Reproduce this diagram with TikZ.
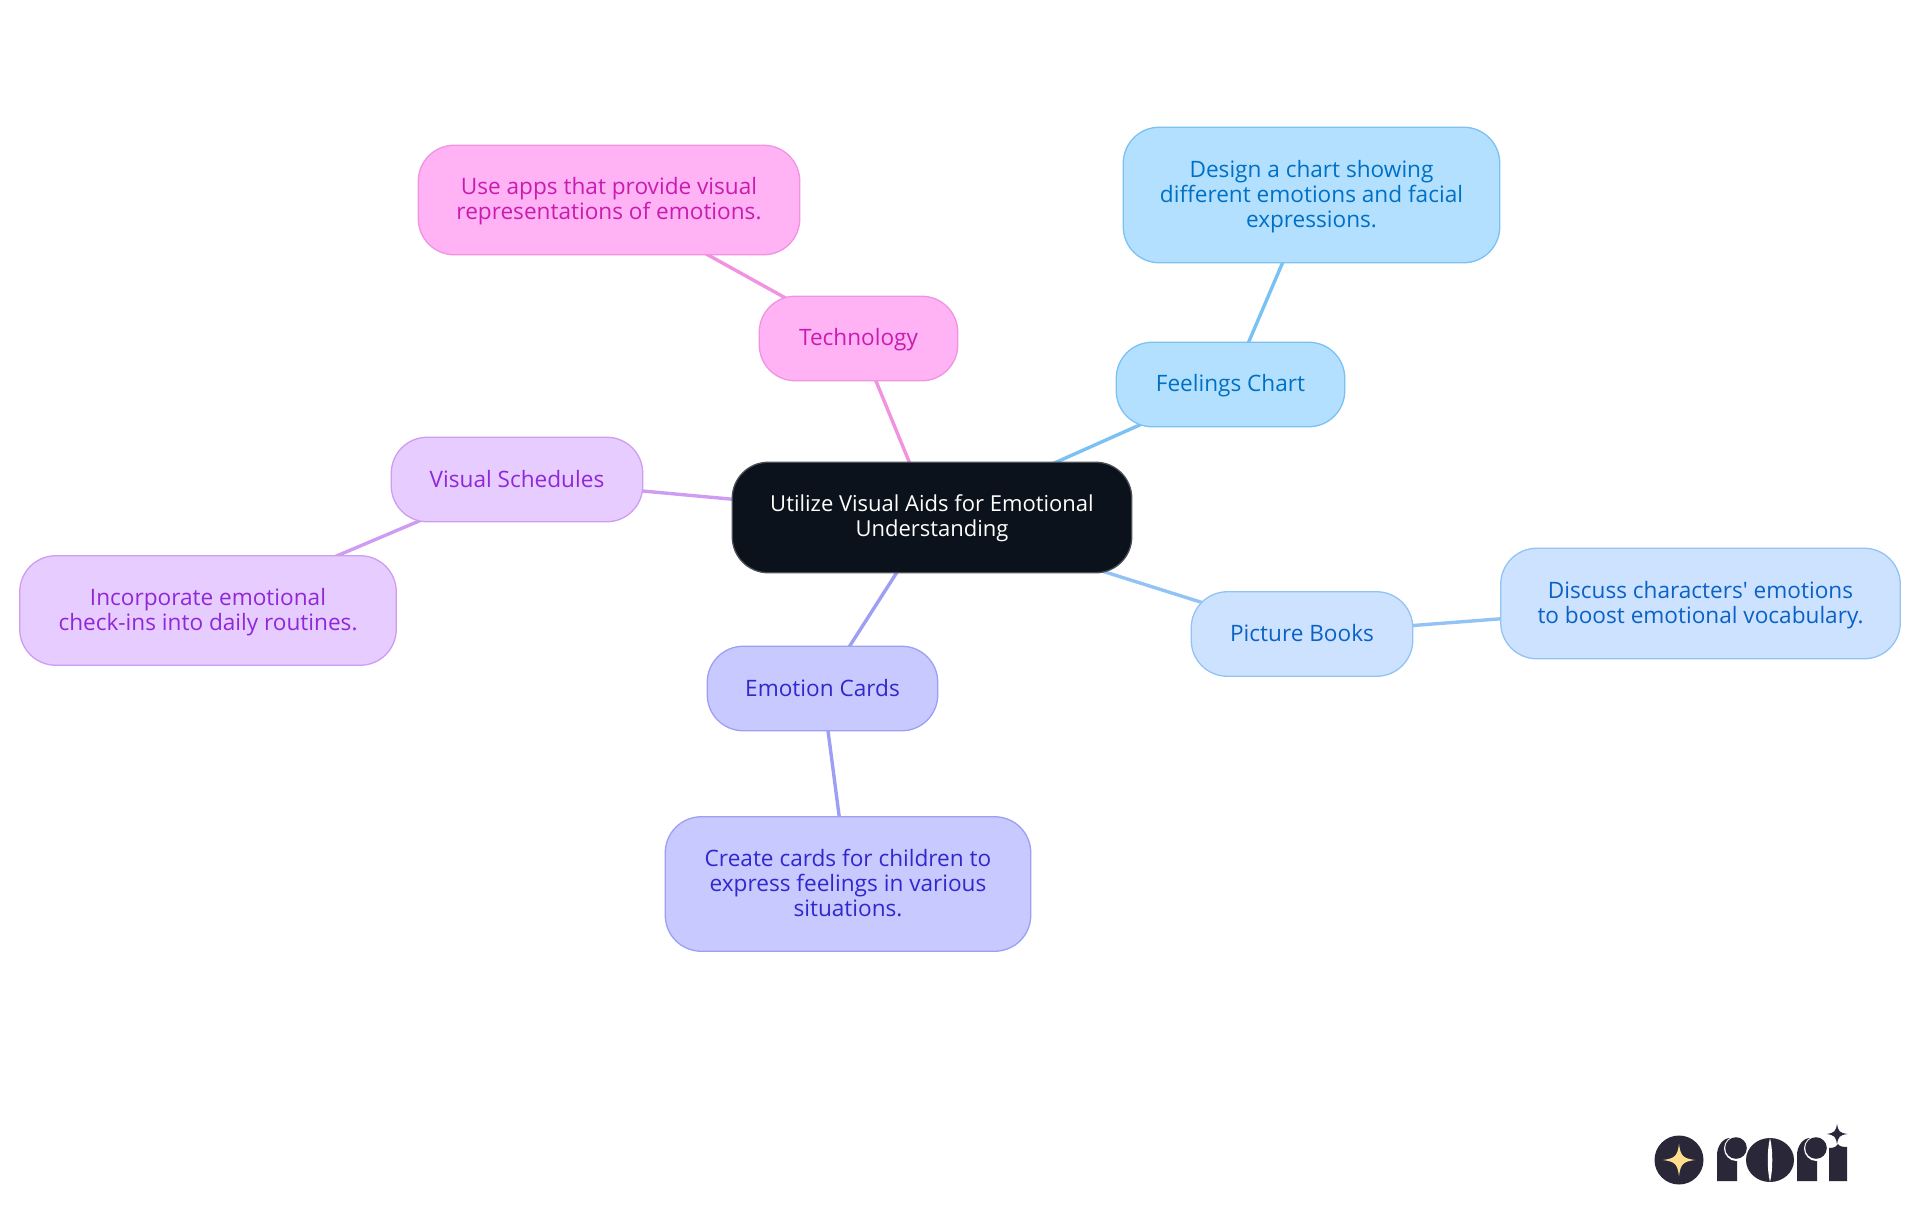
\documentclass[tikz,border=0pt]{standalone}
\usepackage{fontspec}
\newfontfamily\mapfont{Open Sans}
\usetikzlibrary{backgrounds}
\definecolor{cRootF}{HTML}{0B121B}\definecolor{cRootD}{HTML}{4A4F56}
\definecolor{cSkyF}{HTML}{B3E0FF}\definecolor{cSkyD}{HTML}{7BC1F2}\definecolor{cSkyT}{HTML}{0070C4}
\definecolor{cBlueF}{HTML}{CCE2FF}\definecolor{cBlueD}{HTML}{93C3F5}\definecolor{cBlueT}{HTML}{0B62C4}
\definecolor{cIndF}{HTML}{C8C9FF}\definecolor{cIndD}{HTML}{9D9FF5}\definecolor{cIndT}{HTML}{3028CC}
\definecolor{cPurF}{HTML}{E6CCFF}\definecolor{cPurD}{HTML}{CE9DF2}\definecolor{cPurT}{HTML}{9028D8}
\definecolor{cPinkF}{HTML}{FFB3F5}\definecolor{cPinkD}{HTML}{F093E0}\definecolor{cPinkT}{HTML}{C81CB0}
\definecolor{cLogo}{HTML}{2A2838}\definecolor{cStar}{HTML}{FFDE8F}
\tikzset{
  box/.style={rectangle,rounded corners=36pt,draw,line width=1.3pt,inner sep=0pt,align=center,
    font=\mapfont\fontsize{22.6}{25}\selectfont,
    execute at begin node={\rule{0pt}{20pt}},execute at end node={\rule[-5pt]{0pt}{5pt}}},
  rootbox/.style={box,fill=cRootF,draw=cRootD,text=white,font=\mapfont\fontsize{22}{25}\selectfont},
  sky/.style={box,fill=cSkyF,draw=cSkyD,text=cSkyT},
  bluebox/.style={box,fill=cBlueF,draw=cBlueD,text=cBlueT},
  ind/.style={box,fill=cIndF,draw=cIndD,text=cIndT},
  pur/.style={box,fill=cPurF,draw=cPurD,text=cPurT},
  pink/.style={box,fill=cPinkF,draw=cPinkD,text=cPinkT},
  edge/.style={line width=3.4pt},
  sz/.style 2 args={minimum width=#1pt-0.5pt,minimum height=#2pt-0.5pt},
}
\newcommand{\firstline}{\rule{0pt}{19.5pt}}
\newcommand{\fourstar}[4]{% x y r colour
  \fill[#4] (#1,#2-#3) .. controls (#1+0.1*#3,#2-0.25*#3) and (#1+0.25*#3,#2-0.1*#3) .. (#1+#3,#2)
    .. controls (#1+0.25*#3,#2+0.1*#3) and (#1+0.1*#3,#2+0.25*#3) .. (#1,#2+#3)
    .. controls (#1-0.1*#3,#2+0.25*#3) and (#1-0.25*#3,#2+0.1*#3) .. (#1-#3,#2)
    .. controls (#1-0.25*#3,#2-0.1*#3) and (#1-0.1*#3,#2-0.25*#3) .. (#1,#2-#3) -- cycle;}
\newcommand{\logor}[1]{%
  \fill[cLogo] (#1,1181) -- (#1,1155) .. controls (#1,1146) and (#1+6,1138) .. (#1+13,1138) -- (#1+20,1138) -- (#1+20,1181) -- cycle;
  \fill[white] (#1+19.5,1148.5) circle (12.5);
  \fill[cLogo] (#1+19,1148) circle (10.8);}
\begin{document}
\begin{tikzpicture}[x=1pt,y=-1pt]
\useasboundingbox (0,0) rectangle (1920,1215);
\node[rootbox,sz={400}{111}] (root) at (932,517.5) {\rule{0pt}{18pt}Utilize Visual Aids for Emotional\\Understanding};
\node[sky,sz={229}{85}] (feel) at (1230.5,384.5) {Feelings Chart};
\node[sky,sz={377}{136}] (feelD) at (1311.5,195) {\firstline Design a chart showing\\different emotions and facial\\expressions.};
\node[bluebox,sz={222}{85}] (pic) at (1302,634) {Picture Books};
\node[bluebox,sz={400}{111}] (picD) at (1700.5,603.5) {\firstline Discuss characters' emotions\\to boost emotional vocabulary.};
\node[ind,sz={231}{85}] (card) at (822.5,688.5) {Emotion Cards};
\node[ind,sz={366}{135}] (cardD) at (848,884) {\firstline Create cards for children to\\express feelings in various\\situations.};
\node[pur,sz={252}{85}] (sched) at (517,479.5) {Visual Schedules};
\node[pur,sz={377}{110}] (schedD) at (208,610.5) {\firstline Incorporate emotional\\check-ins into daily routines.};
\node[pink,sz={199}{85}] (tech) at (858.5,338.5) {Technology};
\node[pink,sz={382}{110}] (techD) at (609,200) {\firstline Use apps that provide visual\\representations of emotions.};
\begin{pgfonlayer}{background}
\draw[edge,cSkyD] (root.center)--(feel.center);
\draw[edge,cSkyD] (feel.center)--(feelD.center);
\draw[edge,cBlueD] (root.center)--(pic.center);
\draw[edge,cBlueD] (pic.center)--(picD.center);
\draw[edge,cIndD] (root.center)--(card.center);
\draw[edge,cIndD] (card.center)--(cardD.center);
\draw[edge,cPurD] (root.center)--(sched.center);
\draw[edge,cPurD] (sched.center)--(schedD.center);
\draw[edge,cPinkD] (root.center)--(tech.center);
\draw[edge,cPinkD] (tech.center)--(techD.center);
\end{pgfonlayer}
% logo
\fill[cLogo] (1679,1160) circle (24.5);
\fourstar{1679}{1160}{16}{cStar}
\logor{1717}
\fill[cLogo] (1770,1160) ellipse (24 and 22);
\fill[white] (1770,1138) .. controls (1767,1150) and (1767,1170) .. (1770,1182) .. controls (1773,1170) and (1773,1150) .. (1770,1138) -- cycle;
\logor{1797}
\fill[cLogo] (1829,1181) -- (1829,1148) .. controls (1835,1148) and (1837,1146) .. (1838,1144) .. controls (1839,1146) and (1842,1147) .. (1847,1147) -- (1847,1181) -- cycle;
\fourstar{1837}{1134}{10.5}{cLogo}
\end{tikzpicture}
\end{document}
